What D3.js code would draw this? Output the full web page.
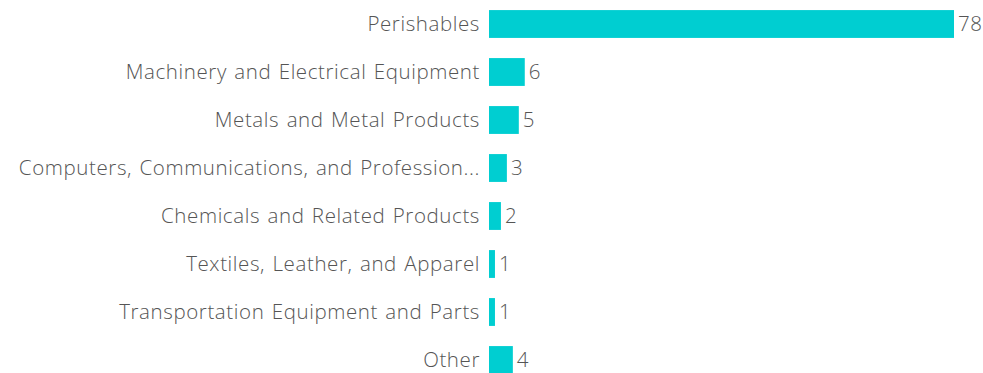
<!DOCTYPE html>
<html>
<head>
<meta charset="utf-8">
<script src="https://cdn.jsdelivr.net/npm/d3@7"></script>
<style>
  html, body { margin: 0; padding: 0; background: #fff; }
  svg { display: block; }
  text { font-family: "Open Sans", Lato, sans-serif; font-weight: 300; fill: #555; letter-spacing: 0.6px; word-spacing: 1.5px; }
</style>
</head>
<body>
<svg id="chart" width="983" height="373"></svg>
<script>
const categories = [
  "Perishables",
  "Machinery and Electrical Equipment",
  "Metals and Metal Products",
  "Computers, Communications, and Profession...",
  "Chemicals and Related Products",
  "Textiles, Leather, and Apparel",
  "Transportation Equipment and Parts",
  "Other"
];
const values = [78, 6, 5, 3, 2, 1, 1, 4];

const svg = d3.select("#chart");
const x0 = 489;
const fontSize = 20.5;

const x = d3.scaleLinear().domain([0, 78]).range([x0, 954]);
const y = d3.scaleBand().domain(categories).range([0, 384]).paddingInner(0.42).paddingOuter(0.21);

const rows = svg.selectAll("g.row")
  .data(categories.map((c, i) => ({ c, v: values[i] })))
  .join("g")
  .attr("class", "row");

rows.append("rect")
  .attr("x", x0)
  .attr("y", d => y(d.c))
  .attr("width", d => x(d.v) - x0)
  .attr("height", y.bandwidth())
  .attr("fill", "#00CED1");

// category names, right-aligned against the bar baseline
rows.append("text")
  .attr("x", x0 - 9)
  .attr("y", d => y(d.c) + y.bandwidth() / 2)
  .attr("dy", "0.35em")
  .attr("text-anchor", "end")
  .attr("font-size", fontSize)
  .text(d => d.c);

// value at the end of each bar
rows.append("text")
  .attr("x", d => x(d.v) + 4)
  .attr("y", d => y(d.c) + y.bandwidth() / 2)
  .attr("dy", "0.35em")
  .attr("font-size", fontSize)
  .text(d => d.v);
</script>
</body>
</html>
